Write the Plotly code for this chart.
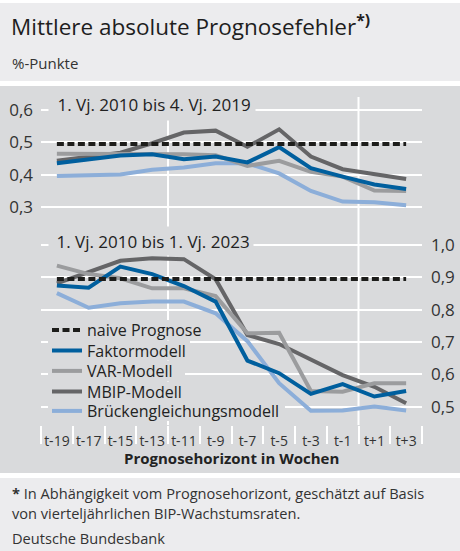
import plotly.graph_objects as go

W, H = 460, 551

# ---------------- data ----------------
categories = ["t-19", "t-17", "t-15", "t-13", "t-11", "t-9", "t-7", "t-5", "t-3", "t-1", "t+1", "t+3"]

# Panel 1: 1. Vj. 2010 bis 4. Vj. 2019
naive_2019 = [0.495, 0.495, 0.495, 0.495, 0.495, 0.495, 0.495, 0.495, 0.495, 0.495, 0.495, 0.495]
faktor_2019 = [0.435, 0.448, 0.459, 0.463, 0.448, 0.456, 0.438, 0.485, 0.420, 0.394, 0.370, 0.356]
var_2019 = [0.465, 0.465, 0.465, 0.463, 0.463, 0.460, 0.427, 0.443, 0.409, 0.394, 0.351, 0.350]
mbip_2019 = [0.443, 0.456, 0.468, 0.497, 0.530, 0.536, 0.486, 0.540, 0.456, 0.417, 0.401, 0.387]
bruecken_2019 = [0.396, 0.397, 0.401, 0.415, 0.422, 0.435, 0.435, 0.404, 0.350, 0.317, 0.315, 0.306]

# Panel 2: 1. Vj. 2010 bis 1. Vj. 2023
naive_2023 = [0.895, 0.895, 0.895, 0.895, 0.895, 0.895, 0.895, 0.895, 0.895, 0.895, 0.895, 0.895]
faktor_2023 = [0.875, 0.868, 0.933, 0.910, 0.873, 0.825, 0.643, 0.604, 0.540, 0.570, 0.532, 0.549]
var_2023 = [0.936, 0.910, 0.897, 0.866, 0.866, 0.842, 0.727, 0.729, 0.549, 0.547, 0.573, 0.573]
mbip_2023 = [0.881, 0.917, 0.951, 0.959, 0.956, 0.894, 0.722, 0.694, 0.647, 0.598, 0.562, 0.511]
bruecken_2023 = [0.851, 0.806, 0.820, 0.825, 0.825, 0.789, 0.703, 0.573, 0.488, 0.489, 0.501, 0.489]

top_ticks = [0.3, 0.4, 0.5, 0.6]
top_ticktext = ["0,3", "0,4", "0,5", "0,6"]
bottom_ticks = [0.5, 0.6, 0.7, 0.8, 0.9, 1.0]
bottom_ticktext = ["0,5", "0,6", "0,7", "0,8", "0,9", "1,0"]

series_names = ["naive Prognose", "Faktormodell", "VAR-Modell", "MBIP-Modell", "Brückengleichungsmodell"]
quarter_boundaries = [("t-13", "t-11"), ("t-1", "t+1")]

# ---------------- style ----------------
FONT = "Open Sans"
BAND = "#d9dadc"
LIGHT = "#ececee"
TXT = "#333333"
colors = {
    "naive Prognose": "#1d1d1b",
    "Faktormodell": "#005f9e",
    "VAR-Modell": "#9b9c9e",
    "MBIP-Modell": "#656567",
    "Brückengleichungsmodell": "#8caed9",
}


def px_x(p):
    return p / W


def px_y(p):
    return 1 - p / H


fig = go.Figure()

top_data = {
    "naive Prognose": naive_2019,
    "Faktormodell": faktor_2019,
    "VAR-Modell": var_2019,
    "MBIP-Modell": mbip_2019,
    "Brückengleichungsmodell": bruecken_2019,
}
bottom_data = {
    "naive Prognose": naive_2023,
    "Faktormodell": faktor_2023,
    "VAR-Modell": var_2023,
    "MBIP-Modell": mbip_2023,
    "Brückengleichungsmodell": bruecken_2023,
}

draw_order = ["Brückengleichungsmodell", "MBIP-Modell", "VAR-Modell", "Faktormodell", "naive Prognose"]
legend_ids = {name: ("legend" if i == 0 else f"legend{i + 1}") for i, name in enumerate(series_names)}

for name in draw_order:
    dash = "7px,3.5px" if name == "naive Prognose" else "solid"
    fig.add_trace(go.Scatter(
        x=categories, y=top_data[name], mode="lines", name=name,
        line=dict(color=colors[name], width=4, dash=dash),
        xaxis="x", yaxis="y", showlegend=False, hoverinfo="skip",
    ))
    fig.add_trace(go.Scatter(
        x=categories, y=bottom_data[name], mode="lines", name=name,
        line=dict(color=colors[name], width=4, dash=dash),
        xaxis="x", yaxis="y2", showlegend=True, legend=legend_ids[name], hoverinfo="skip",
    ))

PLOT_L, PLOT_R = 41, 422
TOP_T, MID, BOT_B = 97, 228, 425

# one legend box per row (each row sits at its own height)
legend_rows = [330, 350.5, 371, 391.5, 411]
# right edge of the background patch behind each legend row
legend_row_right = [210, 190, 185, 190, 285]

layout_legends = {}
for name, row in zip(series_names, legend_rows):
    layout_legends[legend_ids[name]] = dict(
        x=px_x(47), y=px_y(row), xanchor="left", yanchor="middle",
        bgcolor="rgba(0,0,0,0)", borderwidth=0, font=dict(family=FONT, size=16, color="#222222"),
        itemwidth=30, tracegroupgap=0, itemclick=False, itemdoubleclick=False,
    )

fig.update_layout(
    width=W, height=H,
    margin=dict(l=0, r=0, t=0, b=0),
    paper_bgcolor="white",
    plot_bgcolor="rgba(0,0,0,0)",
    font=dict(family=FONT, color=TXT),
    xaxis=dict(
        domain=[px_x(PLOT_L), px_x(PLOT_R)], anchor="y2", type="category",
        categoryorder="array", categoryarray=categories,
        range=[-0.5, len(categories) - 0.5],
        tickson="boundaries", ticks="outside", ticklen=18, tickwidth=2, tickcolor="white",
        showgrid=False, zeroline=False, showline=False, tickangle=0,
        tickfont=dict(family=FONT, size=14, color=TXT), ticklabelstandoff=6,
    ),
    yaxis=dict(
        domain=[px_y(MID), px_y(TOP_T)], anchor="x",
        range=[0.2355, 0.6398], tickvals=top_ticks, ticktext=top_ticktext,
        showgrid=True, gridcolor="white", gridwidth=2, zeroline=False, showline=False,
        ticks="", tickfont=dict(family=FONT, size=17, color=TXT), ticklabelstandoff=7,
    ),
    yaxis2=dict(
        domain=[px_y(BOT_B), px_y(MID)], anchor="x", side="right",
        range=[0.4441, 1.0522], tickvals=bottom_ticks, ticktext=bottom_ticktext,
        showgrid=True, gridcolor="white", gridwidth=2, zeroline=False, showline=False,
        ticks="", tickfont=dict(family=FONT, size=17, color=TXT), ticklabelstandoff=8,
    ),
    **layout_legends,
)

shapes = [
    dict(type="rect", xref="paper", yref="paper", x0=0, x1=1, y0=px_y(81), y1=px_y(3),
         fillcolor=LIGHT, line=dict(width=0), layer="below"),
    dict(type="rect", xref="paper", yref="paper", x0=0, x1=1, y0=px_y(473), y1=px_y(86),
         fillcolor=BAND, line=dict(width=0), layer="below"),
    dict(type="rect", xref="paper", yref="paper", x0=0, x1=1, y0=px_y(551), y1=px_y(478),
         fillcolor=LIGHT, line=dict(width=0), layer="below"),
]
for a, b in quarter_boundaries:
    xb = (categories.index(a) + categories.index(b)) / 2
    shapes.append(dict(type="line", xref="x", yref="paper", x0=xb, x1=xb,
                       y0=px_y(BOT_B), y1=px_y(TOP_T), line=dict(color="white", width=2),
                       layer="between"))
# background patches behind legend rows (hide gridlines under the legend text)
for row, right in zip(legend_rows, legend_row_right):
    shapes.append(dict(type="rect", xref="paper", yref="paper",
                       x0=px_x(48), x1=px_x(right), y0=px_y(row + 10), y1=px_y(row - 10),
                       fillcolor=BAND, line=dict(width=0), layer="above"))
fig.update_layout(shapes=shapes)

annotations = [
    dict(text="Mittlere absolute Prognosefehler<sup><b>*)</b></sup>", x=px_x(9), y=px_y(25),
         font=dict(family=FONT, size=22.5, color="#1e1e1e")),
    dict(text="%-Punkte", x=px_x(10), y=px_y(63), font=dict(family=FONT, size=15, color=TXT)),
    dict(text="&nbsp;1. Vj. 2010 bis 4. Vj. 2019", x=px_x(48), y=px_y(104), bgcolor=BAND,
         borderpad=4, height=24, font=dict(family=FONT, size=17, color="#222222")),
    dict(text="&nbsp;1. Vj. 2010 bis 1. Vj. 2023", x=px_x(48), y=px_y(241), bgcolor=BAND,
         borderpad=3, height=22, font=dict(family=FONT, size=17, color="#222222")),
    dict(text="<b>Prognosehorizont in Wochen</b>", x=px_x(231), y=px_y(458), xanchor="center",
         font=dict(family=FONT, size=15, color="#222222")),
    dict(text="<b>*</b> In Abhängigkeit vom Prognosehorizont, geschätzt auf Basis",
         x=px_x(10), y=px_y(493), font=dict(family=FONT, size=14.6, color=TXT)),
    dict(text="von vierteljährlichen BIP-Wachstumsraten.",
         x=px_x(10), y=px_y(513), font=dict(family=FONT, size=14.6, color=TXT)),
    dict(text="Deutsche Bundesbank",
         x=px_x(10), y=px_y(538), font=dict(family=FONT, size=14.6, color=TXT)),
]
for ann in annotations:
    ann.setdefault("xref", "paper")
    ann.setdefault("yref", "paper")
    ann.setdefault("xanchor", "left")
    ann.setdefault("yanchor", "middle")
    ann.setdefault("showarrow", False)
fig.update_layout(annotations=annotations)

fig.write_html("out.html", config={"displayModeBar": False},
               post_script="document.body.style.margin='0';")
